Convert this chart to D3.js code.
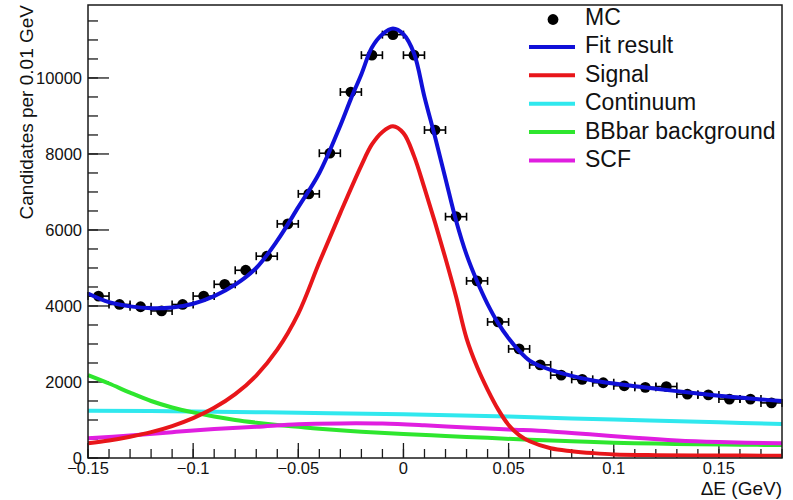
<!DOCTYPE html>
<html>
<head>
<meta charset="utf-8">
<script src="https://cdn.jsdelivr.net/npm/d3@7/dist/d3.min.js"></script>
<style>
  html, body { margin: 0; padding: 0; background: #ffffff; }
  svg { display: block; font-family: "Liberation Sans", Arial, Helvetica, sans-serif; }
</style>
</head>
<body>
<svg id="chart" width="793" height="500"></svg>
<script>
// ---------------- Data ----------------
const dataX = [-0.145,-0.135,-0.125,-0.115,-0.105,-0.095,-0.085,-0.075,-0.065,-0.055,-0.045,-0.035,-0.025,-0.015,-0.005,
               0.005,0.015,0.025,0.035,0.045,0.055,0.065,0.075,0.085,0.095,0.105,0.115,0.125,0.135,0.145,0.155,0.165,0.175];
const dataY = [4260,4040,3980,3870,4040,4260,4570,4940,5310,6160,6950,8020,9630,10600,11140,
               10600,8630,6350,4660,3580,2870,2450,2180,2070,1980,1900,1860,1880,1680,1660,1550,1550,1450];
const binHalfWidth = 0.005;

const fitX = [-0.15,-0.14,-0.13,-0.12,-0.11,-0.10,-0.09,-0.08,-0.07,-0.06,-0.05,-0.04,-0.03,-0.025,-0.02,-0.015,-0.01,-0.005,0,
              0.005,0.01,0.015,0.02,0.025,0.03,0.035,0.04,0.045,0.05,0.055,0.06,0.065,0.07,0.08,0.09,0.10,0.11,0.12,0.13,0.14,0.15,0.16,0.17,0.18];
const fitY = [4330,4100,3990,3940,3960,4060,4260,4560,5000,5720,6600,7500,8750,9450,10100,10800,11150,11300,11150,
              10650,9500,8450,7350,6250,5350,4650,4050,3550,3150,2820,2560,2420,2320,2160,2040,1960,1890,1820,1760,1700,1640,1590,1540,1500];

const sigX = [-0.15,-0.14,-0.13,-0.12,-0.11,-0.10,-0.09,-0.08,-0.07,-0.06,-0.05,-0.04,-0.03,-0.02,-0.015,-0.01,-0.005,0,
              0.005,0.01,0.015,0.02,0.025,0.03,0.035,0.04,0.045,0.05,0.055,0.06,0.07,0.08,0.09,0.10,0.12,0.15,0.18];
const sigY = [386,460,560,680,840,1050,1320,1680,2170,2850,3800,5150,6450,7700,8250,8580,8730,8550,
              7950,7100,6200,5250,4250,3150,2400,1800,1280,870,600,440,255,180,130,95,75,65,60];

const contX = [-0.15,-0.10,-0.05,0,0.05,0.10,0.15,0.18];
const contY = [1245,1225,1190,1150,1090,1010,940,895];

const bbX = [-0.15,-0.14,-0.13,-0.12,-0.11,-0.10,-0.09,-0.08,-0.07,-0.06,-0.05,-0.04,-0.02,0,0.02,0.04,0.06,0.08,0.10,0.12,0.14,0.16,0.18];
const bbY = [2180,1960,1720,1500,1330,1200,1090,1000,930,870,820,770,690,630,580,530,480,440,400,380,360,350,340];

const scfX = [-0.15,-0.13,-0.11,-0.09,-0.07,-0.05,-0.03,-0.01,0.01,0.03,0.05,0.07,0.09,0.11,0.13,0.15,0.18];
const scfY = [518,590,680,760,820,890,910,905,860,800,750,700,620,530,460,420,386];

const xMajorTicks = [-0.15,-0.1,-0.05,0,0.05,0.1,0.15];
const xTickLabels = ["\u22120.15","\u22120.1","\u22120.05","0","0.05","0.1","0.15"];
const yMajorTicks = [0,2000,4000,6000,8000,10000];
const yTickLabels = ["0","2000","4000","6000","8000","10000"];

const legendLabels = ["MC","Fit result","Signal","Continuum","BBbar background","SCF"];
const legendColors = ["#000000","#1010d8","#e8161a","#30e8ee","#2ee62e","#e01ee0"];

const xTitle = "\u0394E (GeV)";
const yTitle = "Candidates per 0.01 GeV";

// ---------------- Layout ----------------
const frame = {left: 88, right: 782, top: 5, bottom: 458};
const svg = d3.select("#chart");

const x = d3.scaleLinear().domain([-0.15, 0.18]).range([frame.left, frame.right]);
const y = d3.scaleLinear().domain([0, 11920]).range([frame.bottom, frame.top]);

const axisColor = "#1a1a1a";

const xMinor = d3.range(-0.15, 0.1801, 0.01).map(v => +v.toFixed(3));
const yMinor = d3.range(0, 11920, 500);

const gTicks = svg.append("g").attr("stroke", axisColor).attr("stroke-width", 1.3);
gTicks.selectAll("line.xmin").data(xMinor).join("line")
  .attr("x1", d => x(d)).attr("x2", d => x(d))
  .attr("y1", frame.bottom).attr("y2", frame.bottom - 9);
gTicks.selectAll("line.xmaj").data(xMajorTicks).join("line")
  .attr("x1", d => x(d)).attr("x2", d => x(d))
  .attr("y1", frame.bottom).attr("y2", frame.bottom - 15);
gTicks.selectAll("line.ymin").data(yMinor).join("line")
  .attr("x1", frame.left).attr("x2", frame.left + 10)
  .attr("y1", d => y(d)).attr("y2", d => y(d));
gTicks.selectAll("line.ymaj").data(yMajorTicks).join("line")
  .attr("x1", frame.left).attr("x2", frame.left + 21)
  .attr("y1", d => y(d)).attr("y2", d => y(d));

// Tick labels
const gLab = svg.append("g").attr("fill", "#111").attr("font-size", 16.5);
gLab.selectAll("text.xl").data(xMajorTicks).join("text")
  .attr("x", d => x(d)).attr("y", 474)
  .attr("text-anchor", "middle")
  .text((d, i) => xTickLabels[i]);
gLab.selectAll("text.yl").data(yMajorTicks).join("text")
  .attr("x", 82).attr("y", d => y(d) + 6)
  .attr("text-anchor", "end")
  .text((d, i) => yTickLabels[i]);

// Axis titles
svg.append("text").attr("x", frame.right).attr("y", 495)
  .attr("text-anchor", "end").attr("font-size", 19).attr("fill", "#111").text(xTitle);
svg.append("text").attr("transform", "translate(33,5) rotate(-90)")
  .attr("text-anchor", "end").attr("font-size", 19).attr("fill", "#111").text(yTitle);

// Data points with horizontal error bars
const gData = svg.append("g");
const pts = dataX.map((d, i) => ({x: d, y: dataY[i]}));
gData.selectAll("line.eh").data(pts).join("line")
  .attr("x1", d => x(d.x - binHalfWidth)).attr("x2", d => x(d.x + binHalfWidth))
  .attr("y1", d => y(d.y)).attr("y2", d => y(d.y))
  .attr("stroke", "#000").attr("stroke-width", 1.6);
gData.selectAll("line.cl").data(pts).join("line")
  .attr("x1", d => x(d.x - binHalfWidth)).attr("x2", d => x(d.x - binHalfWidth))
  .attr("y1", d => y(d.y) - 4).attr("y2", d => y(d.y) + 4)
  .attr("stroke", "#000").attr("stroke-width", 1.6);
gData.selectAll("line.cr").data(pts).join("line")
  .attr("x1", d => x(d.x + binHalfWidth)).attr("x2", d => x(d.x + binHalfWidth))
  .attr("y1", d => y(d.y) - 4).attr("y2", d => y(d.y) + 4)
  .attr("stroke", "#000").attr("stroke-width", 1.6);
gData.selectAll("circle").data(pts).join("circle")
  .attr("cx", d => x(d.x)).attr("cy", d => y(d.y)).attr("r", 5.4).attr("fill", "#000");

// Curves
const line = d3.line().x(d => x(d[0])).y(d => y(d[1])).curve(d3.curveCatmullRom.alpha(0.5));
const curves = [
  {xs: fitX, ys: fitY, color: legendColors[1]},
  {xs: contX, ys: contY, color: legendColors[3]},
  {xs: bbX, ys: bbY, color: legendColors[4]},
  {xs: scfX, ys: scfY, color: legendColors[5]},
  {xs: sigX, ys: sigY, color: legendColors[2]}
];
const gCurves = svg.append("g").attr("fill", "none");
curves.forEach(c => {
  gCurves.append("path")
    .datum(c.xs.map((v, i) => [v, c.ys[i]]))
    .attr("d", line)
    .attr("stroke", c.color).attr("stroke-width", 4)
    .attr("stroke-linejoin", "round");
});

// Frame
svg.append("rect")
  .attr("x", frame.left).attr("y", frame.top)
  .attr("width", frame.right - frame.left).attr("height", frame.bottom - frame.top)
  .attr("fill", "none").attr("stroke", axisColor).attr("stroke-width", 1.5);

// Legend
const leg = svg.append("g");
const rowY0 = 18.5, rowDy = 28.4;
legendLabels.forEach((lab, i) => {
  const ry = rowY0 + i * rowDy;
  if (i === 0) {
    leg.append("circle").attr("cx", 553).attr("cy", ry + 1).attr("r", 5.4).attr("fill", "#000");
  } else {
    leg.append("line").attr("x1", 529).attr("x2", 575).attr("y1", ry).attr("y2", ry)
      .attr("stroke", legendColors[i]).attr("stroke-width", 4);
  }
  leg.append("text").attr("x", 585).attr("y", ry + 6.5)
    .attr("font-size", 23).attr("fill", "#111").text(lab);
});
</script>
</body>
</html>
